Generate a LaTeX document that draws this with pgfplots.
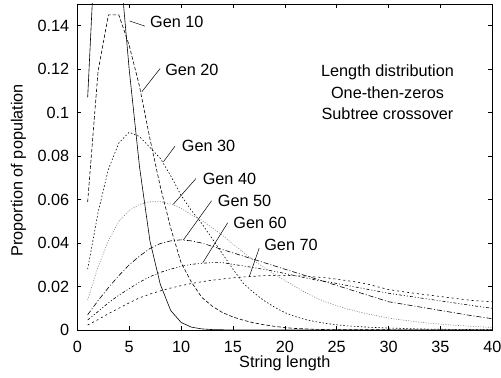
\documentclass[border=0pt]{standalone}
\usepackage{fontspec}
\setmainfont{Liberation Sans}
\usepackage{pgfplots}
\pgfplotsset{compat=1.18}
\usepackage{pgfplotstable}

\pgfplotstableread{
x y
1 0.107
2 0.205
3 0.22
4 0.1745
5 0.12
6 0.075
7 0.041
8 0.021
9 0.009
10 0.0035
11 0.0013
12 0.0005
13 0.0002
14 0.0001
15 0
20 0
25 0
30 0
35 0
40 0
}\genten
\pgfplotstableread{
x y
1 0.059
2 0.119
3 0.145
4 0.145
5 0.131
6 0.112
7 0.088
8 0.066
9 0.047
10 0.031
11 0.022
12 0.015
13 0.011
14 0.008
15 0.006
16 0.0045
17 0.0033
18 0.0024
19 0.0017
20 0.0011
21 0.0007
22 0.0005
23 0.0003
24 0.0002
25 0.0001
30 0.0001
35 0
40 0
}\gentwenty
\pgfplotstableread{
x y
1 0.028
2 0.054
3 0.074
4 0.086
5 0.091
6 0.089
7 0.084
8 0.079
9 0.071
10 0.062
11 0.055
12 0.049
13 0.042
14 0.035
15 0.028
16 0.0215
17 0.0172
18 0.0135
19 0.0105
20 0.008
21 0.0062
22 0.0048
23 0.0038
24 0.003
25 0.0024
26 0.0019
27 0.0016
28 0.0013
29 0.0011
30 0.0009
31 0.0008
32 0.0006
33 0.0005
34 0.0004
35 0.0004
36 0.0003
37 0.0003
38 0.0002
39 0.0002
40 0.0001
}\genthirty
\pgfplotstableread{
x y
1 0.0138
2 0.029
3 0.041
4 0.050
5 0.055
6 0.0578
7 0.059
8 0.059
9 0.058
10 0.056
11 0.053
12 0.0505
13 0.047
14 0.0435
15 0.0395
16 0.0358
17 0.032
18 0.0288
19 0.0257
20 0.0228
21 0.020
22 0.0172
23 0.0148
24 0.0128
25 0.0112
26 0.0097
27 0.0085
28 0.0074
29 0.0064
30 0.0055
31 0.0048
32 0.0042
33 0.0036
34 0.0031
35 0.0027
36 0.0023
37 0.0020
38 0.0017
39 0.0014
40 0.0012
}\genforty
\pgfplotstableread{
x y
1 0.007
2 0.0135
3 0.0195
4 0.025
5 0.030
6 0.034
7 0.0375
8 0.0398
9 0.041
10 0.0415
11 0.041
12 0.040
13 0.0385
14 0.037
15 0.0355
16 0.034
17 0.0325
18 0.031
19 0.0295
20 0.028
21 0.0265
22 0.025
23 0.0235
24 0.022
25 0.0205
26 0.019
27 0.0175
28 0.016
29 0.0145
30 0.013
31 0.0122
32 0.0114
33 0.0106
34 0.0098
35 0.009
36 0.0082
37 0.0074
38 0.0066
39 0.0059
40 0.0052
}\genfifty
\pgfplotstableread{
x y
1 0.0046
2 0.0085
3 0.0125
4 0.016
5 0.019
6 0.022
7 0.0245
8 0.0265
9 0.028
10 0.0293
11 0.0302
12 0.0307
13 0.031
14 0.031
15 0.0302
16 0.0295
17 0.0287
18 0.0279
19 0.027
20 0.026
21 0.025
22 0.024
23 0.023
24 0.0223
25 0.0214
26 0.0205
27 0.0196
28 0.0187
29 0.0178
30 0.0169
31 0.0162
32 0.0155
33 0.0148
34 0.0141
35 0.0134
36 0.0127
37 0.012
38 0.0113
39 0.0106
40 0.0100
}\gensixty
\pgfplotstableread{
x y
1 0.0023
2 0.0048
3 0.0075
4 0.010
5 0.0125
6 0.0148
7 0.0165
8 0.018
9 0.0193
10 0.0204
11 0.0214
12 0.0222
13 0.0229
14 0.0235
15 0.024
16 0.0244
17 0.0247
18 0.025
19 0.0251
20 0.0251
21 0.025
22 0.0248
23 0.0244
24 0.024
25 0.0234
26 0.0227
27 0.022
28 0.0211
29 0.0198
30 0.0186
31 0.0179
32 0.0172
33 0.0166
34 0.016
35 0.0154
36 0.0148
37 0.0142
38 0.0136
39 0.0133
40 0.013
}\genseventy

\begin{document}
\begin{tikzpicture}
\begin{axis}[
  scale only axis,
  width=415bp, height=326bp,
  xmin=0, xmax=40, ymin=0, ymax=0.15,
  xtick={0,5,10,15,20,25,30,35,40},
  ytick={0,0.02,0.04,0.06,0.08,0.1,0.12,0.14},
  tick align=inside,
  tick pos=both,
  major tick length=4bp,
  axis line style={line width=0.6pt},
  every tick/.style={black, line width=0.5pt},
  scaled y ticks=false,
  yticklabel style={/pgf/number format/fixed, /pgf/number format/precision=2, xshift=-4.5bp},
  xticklabel style={yshift=-7.5bp},
  /pgf/number format/assume math mode=true,
  font=\fontsize{16.3}{19}\selectfont,
  xlabel={String length},
  ylabel={Proportion of population},
  xlabel style={at={(axis description cs:0.5,-0.103)}, anchor=center},
  ylabel style={at={(axis description cs:-0.142,0.49)}, anchor=center},
  every axis plot/.append style={line width=0.6pt, black},
]
\addplot[solid] table {\genten};
\addplot[dash pattern=on 3.5bp off 2bp] table {\gentwenty};
\addplot[dash pattern=on 1.5bp off 2bp] table {\genthirty};
\addplot[gray, dash pattern=on 1bp off 1.5bp] table {\genforty};
\addplot[dash pattern=on 5bp off 2bp on 1bp off 2bp] table {\genfifty};
\addplot[dash pattern=on 3bp off 2bp on 1bp off 2bp on 1bp off 2bp] table {\gensixty};
\addplot[dash pattern=on 2bp off 3bp] table {\genseventy};

\draw[line width=0.5pt] (axis cs:5.03,0.1422) -- (axis cs:6.54,0.1398);
\node[anchor=west, inner sep=0pt] at (axis cs:7.0,0.1416) {Gen 10};
\draw[line width=0.5pt] (axis cs:7.98,0.1203) -- (axis cs:6.22,0.1096);
\node[anchor=west, inner sep=0pt] at (axis cs:8.46,0.1195) {Gen 20};
\draw[line width=0.5pt] (axis cs:9.42,0.0846) -- (axis cs:8.30,0.0774);
\node[anchor=west, inner sep=0pt] at (axis cs:10.07,0.0846) {Gen 30};
\draw[line width=0.5pt] (axis cs:11.44,0.0697) -- (axis cs:9.26,0.0579);
\node[anchor=west, inner sep=0pt] at (axis cs:12.08,0.0694) {Gen 40};
\draw[line width=0.5pt] (axis cs:12.95,0.0595) -- (axis cs:10.22,0.0414);
\node[anchor=west, inner sep=0pt] at (axis cs:13.53,0.0595) {Gen 50};
\draw[line width=0.5pt] (axis cs:14.49,0.0493) -- (axis cs:12.09,0.0309);
\node[anchor=west, inner sep=0pt] at (axis cs:15.03,0.0495) {Gen 60};
\draw[line width=0.5pt] (axis cs:17.53,0.0376) -- (axis cs:16.57,0.0245);
\node[anchor=west, inner sep=0pt] at (axis cs:18.01,0.0391) {Gen 70};

\node[align=center, inner sep=0pt, font=\fontsize{16.3}{21.5}\selectfont] at (axis cs:29.9,0.1094) {Length distribution\\One-then-zeros\\Subtree crossover};
\end{axis}
\pgfresetboundingbox
\useasboundingbox (-77.3bp,-48bp) rectangle (423.7bp,330bp);
\end{tikzpicture}
\end{document}
